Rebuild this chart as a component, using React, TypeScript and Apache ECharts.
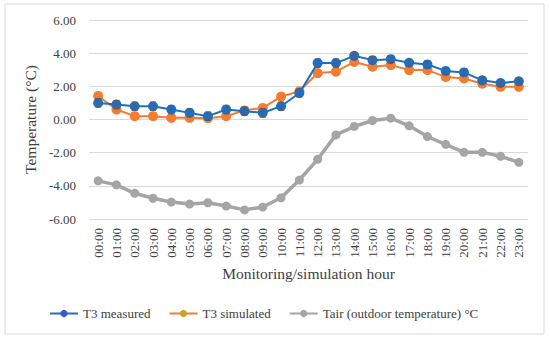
import React, { useEffect, useRef } from "react";
import * as echarts from "echarts";

const hours = ["00:00","01:00","02:00","03:00","04:00","05:00","06:00","07:00","08:00","09:00","10:00","11:00","12:00","13:00","14:00","15:00","16:00","17:00","18:00","19:00","20:00","21:00","22:00","23:00"];
const measured = [1.0,0.9,0.8,0.8,0.6,0.4,0.2,0.6,0.5,0.4,0.8,1.6,3.4,3.4,3.84,3.58,3.64,3.42,3.32,2.93,2.84,2.36,2.2,2.3];
const simulated = [1.42,0.6,0.2,0.2,0.1,0.1,0.08,0.2,0.55,0.7,1.38,1.7,2.8,2.88,3.47,3.18,3.28,2.98,2.98,2.57,2.47,2.16,1.97,1.97];
const tair = [-3.7,-3.94,-4.45,-4.75,-4.98,-5.1,-5.02,-5.22,-5.45,-5.28,-4.72,-3.65,-2.4,-0.93,-0.42,-0.06,0.08,-0.38,-1.03,-1.5,-1.98,-1.98,-2.22,-2.58];
const measuredErr = [0.25,0.25,0.25,0.25,0.25,0.25,0.25,0.25,0.25,0.25,0.25,0.25,0.25,0.25,0.2,0.2,0.2,0.2,0.2,0.2,0.2,0.2,0.2,0.2];

const FONT = "Liberation Serif";

export default function App() {
  const ref = useRef<HTMLDivElement>(null);
  useEffect(() => {
    if (!ref.current) return;
    const chart = echarts.init(ref.current, null, { renderer: "svg" });
    const errData = measured.map((v, i) => [i, v - measuredErr[i], v + measuredErr[i]]);
    chart.setOption({
      animation: false,
      textStyle: { fontFamily: FONT },
      graphic: [
        {
          type: "rect",
          shape: { x: 5, y: 4, width: 539, height: 330 },
          style: { fill: "none", stroke: "#d9d9d9", lineWidth: 1 },
          silent: true,
        },
      ],
      grid: { left: 89, right: 22, top: 20, bottom: 120 },
      xAxis: {
        type: "category",
        data: hours,
        boundaryGap: true,
        axisLine: { show: false },
        axisTick: { show: false },
        axisLabel: { rotate: 90, fontSize: 13, color: "#404040", fontFamily: FONT, margin: 9 },
        name: "Monitoring/simulation hour",
        nameLocation: "middle",
        nameGap: 45,
        nameTextStyle: { fontSize: 15.5, color: "#404040", fontFamily: FONT },
      },
      yAxis: {
        type: "value",
        min: -6,
        max: 6,
        interval: 2,
        axisLine: { show: false },
        axisTick: { show: false },
        splitLine: { lineStyle: { color: "#d9d9d9", width: 1 } },
        axisLabel: { formatter: (v: number) => v.toFixed(2), fontSize: 13, color: "#404040", fontFamily: FONT, margin: 13 },
        name: "Temperature (°C)",
        nameLocation: "middle",
        nameGap: 45,
        nameRotate: 90,
        nameTextStyle: { fontSize: 15.5, color: "#404040", fontFamily: FONT },
      },
      legend: {
        bottom: 14,
        left: 44,
        itemWidth: 28,
        itemHeight: 9,
        itemGap: 18,
        textStyle: { fontSize: 13, color: "#404040", fontFamily: FONT },
        data: [
          { name: "T3 measured", itemStyle: { color: "#4052c4" } },
          { name: "T3 simulated", itemStyle: { color: "#c9a22a" } },
          { name: "Tair (outdoor temperature) °C", itemStyle: { color: "#a5a5a5" } },
        ],
      },
      series: [
        {
          name: "Tair (outdoor temperature) °C",
          type: "line",
          data: tair,
          symbol: "circle",
          symbolSize: 9,
          lineStyle: { color: "#a5a5a5", width: 3.5 },
          itemStyle: { color: "#a5a5a5" },
          z: 2,
        },
        {
          name: "T3 measured",
          type: "line",
          data: measured,
          symbol: "circle",
          symbolSize: 10,
          lineStyle: { color: "#1f6fc0", width: 2 },
          itemStyle: { color: "#1f6fc0" },
          z: 4,
        },
        {
          name: "errbars",
          type: "custom",
          data: errData,
          z: 5,
          silent: true,
          renderItem: (params: any, api: any) => {
            const x = api.value(0);
            const lo = api.coord([x, api.value(1)]);
            const hi = api.coord([x, api.value(2)]);
            const w = 3;
            const st = { stroke: "#5a5a6e", lineWidth: 1 };
            return {
              type: "group",
              children: [
                { type: "line", shape: { x1: lo[0], y1: lo[1], x2: hi[0], y2: hi[1] }, style: st },
                { type: "line", shape: { x1: lo[0] - w, y1: lo[1], x2: lo[0] + w, y2: lo[1] }, style: st },
                { type: "line", shape: { x1: hi[0] - w, y1: hi[1], x2: hi[0] + w, y2: hi[1] }, style: st },
              ],
            };
          },
        },
        {
          name: "T3 simulated",
          type: "line",
          data: simulated,
          symbol: "circle",
          symbolSize: 10,
          lineStyle: { color: "#f47b30", width: 2 },
          itemStyle: { color: "#f47b30" },
          z: 3,
        },
      ],
    });
    return () => chart.dispose();
  }, []);
  return <div ref={ref} style={{ width: 550, height: 339, position: "absolute", left: 0, top: 0, background: "#fff" }} />;
}
